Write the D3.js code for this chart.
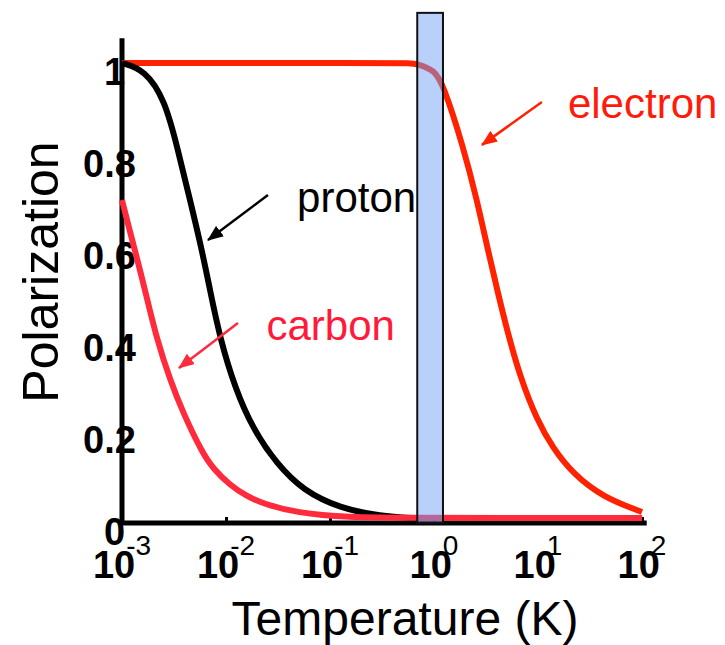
<!DOCTYPE html>
<html>
<head>
<meta charset="utf-8">
<script src="https://cdn.jsdelivr.net/npm/d3@7"></script>
<style>
body { margin: 0; background: #fff; }
svg { display: block; font-family: "Liberation Sans", Arial, sans-serif; }
</style>
</head>
<body>
<div id="chart"></div>
<script>
// [temperature K, polarization]
const electron = [[0.001, 1], [0.3, 1], [0.61, 1], [0.69, 0.998], [1.0, 0.985], [1.22, 0.955], [1.9, 0.82],
    [2.59, 0.702], [3.3, 0.593], [4.12, 0.5], [5.03, 0.42], [6.71, 0.318], [9.78, 0.224],
    [13.9, 0.163], [21.7, 0.107], [42.2, 0.056], [100, 0.024]];
const proton = [[0.001, 1], [0.00166, 0.985], [0.00259, 0.92], [0.00345, 0.811], [0.00451, 0.702],
    [0.00587, 0.593], [0.00701, 0.507], [0.00875, 0.402], [0.01222, 0.293], [0.0182, 0.204],
    [0.0309, 0.128], [0.055, 0.071], [0.1247, 0.032], [0.303, 0.015], [0.69, 0.01]];
const carbon = [[0.001, 0.702], [0.001117, 0.659], [0.00149, 0.55], [0.00166, 0.507], [0.00217, 0.398],
    [0.0029, 0.311], [0.00387, 0.239], [0.006, 0.15], [0.0075, 0.119], [0.0109, 0.082],
    [0.0159, 0.058], [0.0227, 0.042], [0.0482, 0.022], [0.1456, 0.012], [0.628, 0.011], [10, 0.011], [100, 0.011]];

const xTicks = [1e-3, 1e-2, 1e-1, 1, 10, 100];
const xExponents = ["-3", "-2", "-1", "0", "1", "2"];
const yTicks = [0, 0.2, 0.4, 0.6, 0.8, 1];
const yTickLabels = ["0", "0.2", "0.4", "0.6", "0.8", "1"];

// operating region of the target (K) and its top
const band = [0.69, 1.22];
const bandTop = 1.109;

// labels and arrows: [T, P]
const labels = [
    { text: "electron", at: [19.4, 0.88], color: "#ff1a0a" },
    { text: "proton", at: [0.0482, 0.676], color: "#000" },
    { text: "carbon", at: [0.0245, 0.398], color: "#ff1a3c" }
];
const arrows = [
    { from: [10.9, 0.915], to: [2.89, 0.822], color: "#ff2200" },
    { from: [0.0253, 0.713], to: [0.00671, 0.615], color: "#000" },
    { from: [0.01303, 0.435], to: [0.00353, 0.337], color: "#ff2a3c" }
];

const width = 725, height = 645;

const svg = d3.select("#chart")
    .append("svg")
    .attr("width", width)
    .attr("height", height);

const xScale = d3.scaleLog().domain([1e-3, 1e2]).range([122, 642]);
const yScale = d3.scaleLinear().domain([0, 1]).range([523, 63]);

// axes
svg.append("line")
    .attr("x1", xScale(1e-3) - 2).attr("x2", xScale(111))
    .attr("y1", yScale(0)).attr("y2", yScale(0))
    .attr("stroke", "#000").attr("stroke-width", 5);
svg.append("line")
    .attr("x1", xScale(1e-3)).attr("x2", xScale(1e-3))
    .attr("y1", yScale(0) + 2).attr("y2", yScale(1.054))
    .attr("stroke", "#000").attr("stroke-width", 5);

svg.append("g")
    .attr("transform", `translate(0,${yScale(0)})`)
    .call(d3.axisBottom(xScale).tickValues(xTicks.slice(1)).tickSize(-6).tickSizeOuter(0).tickFormat(""))
    .call(g => g.select(".domain").remove())
    .call(g => g.selectAll(".tick line").attr("stroke", "#000").attr("stroke-width", 3));

const xLab = svg.append("g").selectAll("text")
    .data(xTicks)
    .join("text")
    .attr("x", d => xScale(d))
    .attr("y", yScale(0) + 55)
    .attr("text-anchor", "middle")
    .style("font-size", "38px")
    .style("font-weight", "bold");
xLab.append("tspan").text("10");
xLab.append("tspan")
    .attr("dx", -9)
    .attr("dy", -23)
    .style("font-size", "28px")
    .style("font-weight", "normal")
    .text((d, i) => xExponents[i]);

svg.append("g").selectAll("text")
    .data(yTicks)
    .join("text")
    .attr("x", (d, i) => xScale(1e-3) - (yTickLabels[i].length > 1 ? 39 : 18))
    .attr("y", d => yScale(d) + 22)
    .style("font-size", "38px")
    .style("font-weight", "bold")
    .text((d, i) => yTickLabels[i]);

// curves
const line = d3.line()
    .x(d => xScale(d[0]))
    .y(d => yScale(d[1]))
    .curve(d3.curveBasis);

function drawCurve(data, color) {
    svg.append("path")
        .datum(data)
        .attr("fill", "none")
        .attr("stroke", color)
        .attr("stroke-width", 6)
        .attr("stroke-linejoin", "round")
        .attr("d", line);
}

drawCurve(electron, "#ff2200");
drawCurve(proton, "#000");
drawCurve(carbon, "#ff2a3c");

// band
svg.append("rect")
    .attr("x", xScale(band[0]))
    .attr("width", xScale(band[1]) - xScale(band[0]))
    .attr("y", yScale(bandTop))
    .attr("height", yScale(0) - yScale(bandTop))
    .attr("fill", "#71a1f5")
    .attr("fill-opacity", 0.5)
    .attr("stroke", "#111")
    .attr("stroke-width", 2);

// arrows
const defs = svg.append("defs");
arrows.forEach((a, i) => {
    defs.append("marker")
        .attr("id", "head" + i)
        .attr("markerUnits", "userSpaceOnUse")
        .attr("markerWidth", 16).attr("markerHeight", 13)
        .attr("refX", 15).attr("refY", 6.5)
        .attr("orient", "auto")
        .append("path")
        .attr("d", "M0,0 L16,6.5 L0,13 Z")
        .attr("fill", a.color);
    svg.append("line")
        .attr("x1", xScale(a.from[0])).attr("y1", yScale(a.from[1]))
        .attr("x2", xScale(a.to[0])).attr("y2", yScale(a.to[1]))
        .attr("stroke", a.color)
        .attr("stroke-width", 2.5)
        .attr("marker-end", `url(#head${i})`);
});

svg.append("g").selectAll("text")
    .data(labels)
    .join("text")
    .attr("x", d => xScale(d.at[0]))
    .attr("y", d => yScale(d.at[1]))
    .attr("fill", d => d.color)
    .style("font-size", "42px")
    .text(d => d.text);

// axis titles
svg.append("text")
    .attr("x", 405)
    .attr("y", 635)
    .attr("text-anchor", "middle")
    .style("font-size", "48px")
    .text("Temperature (K)");

svg.append("text")
    .attr("transform", "translate(58,272) rotate(-90)")
    .attr("text-anchor", "middle")
    .style("font-size", "50px")
    .text("Polarization");
</script>
</body>
</html>
